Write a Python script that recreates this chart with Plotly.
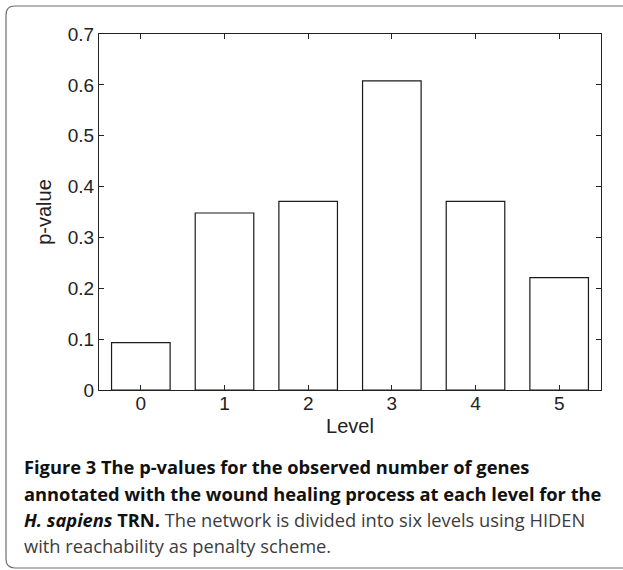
import plotly.graph_objects as go

levels = ["0", "1", "2", "3", "4", "5"]
p_values = [0.093, 0.348, 0.371, 0.608, 0.371, 0.221]
y_ticks = [0, 0.1, 0.2, 0.3, 0.4, 0.5, 0.6, 0.7]
y_tick_labels = ["0", "0.1", "0.2", "0.3", "0.4", "0.5", "0.6", "0.7"]

caption_lines = [
    "<b>Figure 3 The p-values for the observed number of genes</b>",
    "<b>annotated with the wound healing process at each level for the</b>",
    "<b><i>H. sapiens</i> TRN.</b> <span style='color:#3c3c3c'>The network is divided into six levels using HIDEN</span>",
    "<span style='color:#3c3c3c'>with reachability as penalty scheme.</span>",
]

W, H = 623, 570
ML, MR, MT, MB = 99, 22, 34, 180
PW, PH = W - ML - MR, H - MT - MB


def px(x):
    return (x - ML) / PW


def py(y):
    return (H - MB - y) / PH


fig = go.Figure()
fig.add_trace(go.Bar(
    x=list(range(len(levels))), y=p_values,
    marker=dict(color="white", line=dict(color="#1a1a1a", width=1.2)),
    showlegend=False,
))

tick_font = dict(family="Liberation Sans, Arial, sans-serif", size=19, color="#222")
title_font = dict(family="Liberation Sans, Arial, sans-serif", size=20, color="#222")

fig.update_layout(
    width=W, height=H,
    margin=dict(l=ML, r=MR, t=MT, b=MB, pad=0),
    paper_bgcolor="white", plot_bgcolor="white",
    bargap=0.3,
    xaxis=dict(
        range=[-0.5, 5.5], tickmode="array", tickvals=list(range(len(levels))),
        ticktext=levels, ticks="inside", ticklen=5, tickcolor="#222",
        showline=True, linecolor="#222", linewidth=1.2, mirror="ticks",
        showgrid=False, zeroline=False, tickfont=tick_font,
        ticklabelstandoff=-4,
        title=dict(text="Level", font=title_font, standoff=6),
    ),
    yaxis=dict(
        range=[0, 0.7], tickmode="array", tickvals=y_ticks, ticktext=y_tick_labels,
        ticks="inside", ticklen=5, tickcolor="#222",
        showline=True, linecolor="#222", linewidth=1.2, mirror="ticks",
        showgrid=False, zeroline=False, tickfont=tick_font,
        title=dict(text="p-value", font=title_font, standoff=10),
    ),
)

# card border (rounded, open to the right)
x0, y0, y1, r = 6, 6, 568, 9
x_right = 700
path = (
    f"M {px(x_right)},{py(y0)} L {px(x0 + r)},{py(y0)} "
    f"Q {px(x0)},{py(y0)} {px(x0)},{py(y0 + r)} "
    f"L {px(x0)},{py(y1 - r)} Q {px(x0)},{py(y1)} {px(x0 + r)},{py(y1)} "
    f"L {px(x_right)},{py(y1)}"
)
fig.add_shape(type="path", path=path, xref="paper", yref="paper",
              line=dict(color="#6e6e6e", width=1.2), layer="below")

caption_y = [467, 493, 519, 545]
for txt, yy in zip(caption_lines, caption_y):
    fig.add_annotation(
        text=txt, xref="paper", yref="paper", x=px(22), y=py(yy),
        xanchor="left", yanchor="middle", showarrow=False,
        font=dict(family="Open Sans, sans-serif", size=18.3, color="#111"),
        align="left",
    )

fig.write_html("out.html")
